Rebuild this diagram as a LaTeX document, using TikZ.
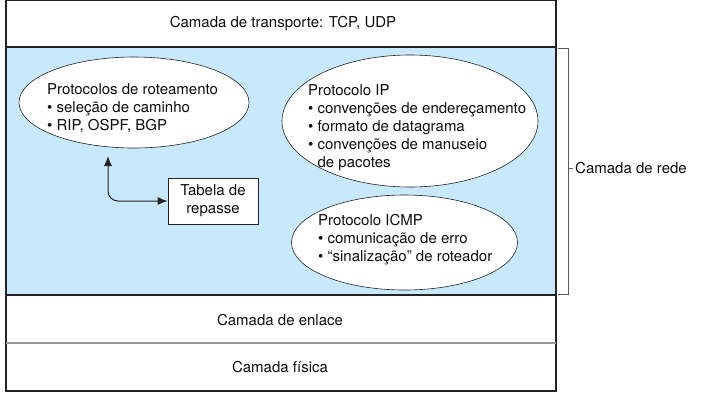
\documentclass[tikz,border=0pt]{standalone}
\usepackage{fontspec}
\setmainfont{TeX Gyre Heros}
\usetikzlibrary{shapes.geometric,arrows.meta}
\definecolor{netblue}{RGB}{200,233,251}
\definecolor{edgec}{RGB}{35,35,35}
\definecolor{sepgray}{RGB}{150,150,150}
\definecolor{brgray}{RGB}{90,90,90}
\begin{document}
\begin{tikzpicture}[x=1pt,y=-1pt,
  font=\fontsize{15}{18}\selectfont,
  every node/.style={text=black!95},
  layertext/.style={anchor=base, inner sep=0pt},
  protoell/.style={ellipse, draw=edgec, line width=0.6pt, fill=white, inner sep=0pt},
  prototext/.style={anchor=north west, align=left, inner sep=0pt},
  tabbox/.style={draw=edgec, line width=0.8pt, fill=white, minimum width=90pt, minimum height=46pt, align=center, inner sep=0pt},
  dblarrow/.style={{Latex[length=10pt,width=8pt]}-{Latex[length=10pt,width=8pt]}, line width=1pt, draw=edgec, rounded corners=10pt}
]
\useasboundingbox (0,0) rectangle (703,405);
% network layer background
\fill[netblue] (6,47) rectangle (556,295);
% layer borders
\draw[edgec, line width=1.2pt] (6,0.6) rectangle (556,391);
\draw[edgec, line width=1.2pt] (6,47) -- (556,47);
\draw[edgec, line width=1.2pt] (6,295) -- (556,295);
\draw[sepgray, line width=1.2pt] (6,343) -- (556,343);
% layer labels
\node[layertext] (transp) at (283,27.7) {Camada de transporte: TCP, UDP};
\node[layertext] (enl) at (280,325) {Camada de enlace};
\node[layertext] (fis) at (280,372.7) {Camada física};
% bracket for network layer
\draw[brgray, line width=0.7pt] (558,48) -- (568,48) -- (568,294) -- (558,294);
\draw[brgray, line width=0.7pt] (568,168) -- (573,168);
\node[anchor=west, inner sep=0pt] (rede) at (575,168) {Camada de rede};
% routing protocols ellipse
\node[protoell, minimum width=230pt, minimum height=91pt] (rout) at (134,102.5) {};
\node[prototext] (routt) at (47,83) {Protocolos de roteamento\\ \textbullet\ seleção de caminho\\ \textbullet\ RIP, OSPF, BGP};
% IP ellipse
\node[protoell, minimum width=256pt, minimum height=132pt] (ip) at (410,121) {};
\node[prototext] (ipt) at (308,84) {Protocolo IP\\ \textbullet\ convenções de endereçamento\\ \textbullet\ formato de datagrama\\ \textbullet\ convenções de manuseio\\ \phantom{\textbullet\ }de pacotes};
% ICMP ellipse
\node[protoell, minimum width=226pt, minimum height=95pt] (icmp) at (404.5,242.5) {};
\node[prototext] (icmpt) at (318,214.5) {Protocolo ICMP\\ \textbullet\ comunicação de erro\\ \textbullet\ “sinalização” de roteador};
% forwarding table
\node[tabbox] (tab) at (213,201) {Tabela de\\ repasse};
% arrow
\coordinate (ra) at (108,156);
\draw[dblarrow] (ra) |- (tab.west);
\end{tikzpicture}
\end{document}
